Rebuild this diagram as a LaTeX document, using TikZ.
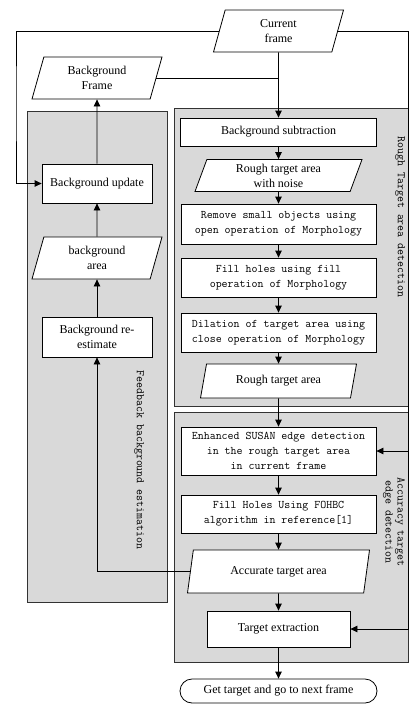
\documentclass[tikz,border=0pt]{standalone}
\usepackage{fontspec}
\setmainfont{Liberation Serif}
\usetikzlibrary{shapes.geometric,arrows.meta}
\definecolor{panelgray}{RGB}{217,217,217}
\tikzset{
  serif/.style={font=\fontsize{12}{15}\selectfont},
  mono/.style={font=\fontsize{11.6}{15}\selectfont\ttfamily},
  procbox/.style={shape=rectangle, draw=black, fill=white, line width=0.8pt, align=center, inner sep=1pt},
  iobox/.style={shape=trapezium, trapezium left angle=65, trapezium right angle=115,
    trapezium stretches body, draw=black, fill=white, line width=0.8pt, align=center, inner sep=1pt},
  endbox/.style={shape=rectangle, rounded corners=12pt, draw=black, fill=white, line width=0.8pt, inner sep=1pt},
  panel/.style={draw=black!80, fill=panelgray, line width=0.8pt},
  arr/.style={-{Triangle[length=7pt,width=6.5pt]}, line width=0.8pt},
}

\begin{document}
\begin{tikzpicture}[x=1pt, y=-1pt]
    \useasboundingbox (0,0) rectangle (409,704);
    % grey panels
    \draw[panel] (27,111) rectangle (167,602);
    \draw[panel] (174,108) rectangle (408.5,406);
    \draw[panel] (174,412) rectangle (408.5,662);
    \node[mono, rotate=-90] at (400,217) (L1) {Rough Target area detection};
    \node[mono, rotate=-90, align=center, font=\fontsize{11.6}{12}\selectfont\ttfamily] at (394,522) (L2) {Accuracy target\\edge detection};
    \node[mono, rotate=-90] at (139,460) (L3) {Feedback background estimation};

    % input and feedback column
    \node[iobox, serif, minimum width=130, minimum height=42] at (278.5,31) (CF) {Current\\frame};
    \node[iobox, serif, minimum width=130, minimum height=42] at (97,78) (BF) {Background\\Frame};
    \node[procbox, serif, minimum width=110, minimum height=39] at (97,183.5) (BU) {Background update};
    \node[iobox, serif, minimum width=130, minimum height=42] at (97,258) (BA) {background\\area};
    \node[procbox, serif, minimum width=110, minimum height=40] at (97,337) (BR) {Background re-\\estimate};

    % main column
    \node[procbox, serif, minimum width=196, minimum height=28] at (278.5,132) (BS) {Background subtraction};
    \node[iobox, serif, minimum width=167, minimum height=32] at (278.5,175.5) (RN) {Rough target area\\with noise};
    \node[procbox, mono, minimum width=195, minimum height=40] at (278.5,224) (RS) {Remove small objects using\\open operation of Morphology};
    \node[procbox, mono, minimum width=195, minimum height=39] at (278.5,277.5) (FH) {Fill holes using fill\\operation of Morphology};
    \node[procbox, mono, minimum width=195, minimum height=39] at (278.5,332.5) (DL) {Dilation of target area using\\close operation of Morphology};
    \node[iobox, serif, minimum width=156, minimum height=34] at (278.5,381) (RT) {Rough target area};
    \node[procbox, mono, minimum width=195, minimum height=48] at (278.5,451) (ES) {Enhanced SUSAN edge detection\\in the rough target area\\in current frame};
    \node[procbox, mono, minimum width=195, minimum height=38] at (278.5,514) (FO) {Fill Holes Using FOHBC\\algorithm in reference[1]};
    \node[iobox, serif, minimum width=182, minimum height=43] at (278.5,571.5) (AT) {Accurate target area};
    \node[procbox, serif, minimum width=143, minimum height=36] at (278.5,629) (TE) {Target extraction};
    \node[endbox, serif, minimum width=197, minimum height=24] at (278.5,691) (GT) {Get target and go to next frame};

    \coordinate (LB) at (16,100);
    \coordinate (RB) at (408.5,300);
    \draw[arr] (CF.west) -| (LB) |- (BU);
    \draw[arr] (CF.east) -| (RB) |- (ES);
    \draw[arr] (RB) |- (TE);
    \draw[arr] (CF) -- (CF |- BS.north);
    \draw (BF.east) -- (BF.east -| CF);
    \path [arr] (BU) edge (BF);
    \path [arr] (BA) edge (BU);
    \path [arr] (BR) edge (BA);
    \draw[arr] (AT.west) -| (BR);
    \path [arr] (BS) edge (RN);
    \path [arr] (RN) edge (RS);
    \path [arr] (RS) edge (FH);
    \path [arr] (FH) edge (DL);
    \path [arr] (DL) edge (RT);
    \path [arr] (RT) edge (ES);
    \path [arr] (ES) edge (FO);
    \path [arr] (FO) edge (AT);
    \path [arr] (AT) edge (TE);
    \path [arr] (TE) edge (GT);
\end{tikzpicture}
\end{document}
